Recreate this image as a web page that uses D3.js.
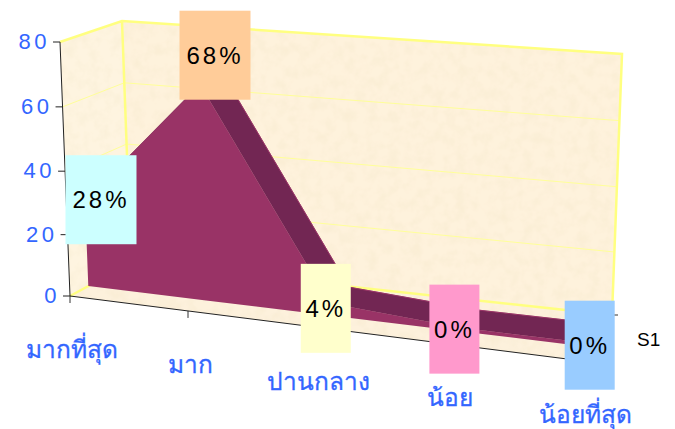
<!DOCTYPE html>
<html>
<head>
<meta charset="utf-8">
<style>
  html, body { margin: 0; padding: 0; background: #fff; }
  svg { display: block; }
</style>
<script src="https://cdn.jsdelivr.net/npm/d3@7"></script>
</head>
<body>
<script>
var categories = ["มากที่สุด", "มาก", "ปานกลาง", "น้อย", "น้อยที่สุด"];
var values = [28, 68, 4, 0, 0];
var seriesName = "S1";
var valueTicks = [0, 20, 40, 60, 80];
var gridValues = [20, 40, 60];
var labelColors = ["#ccffff", "#ffcc99", "#ffffcc", "#ff99cc", "#99ccff"];
// hand placed like the excel data labels, px away from the data point
var labelNudge = [[16, -1], [15, -29], [-4, 5], [-5, -2], [-2, -2]];

var width = 675, height = 429;

var svg = d3.select("body").append("svg")
    .attr("width", width)
    .attr("height", height);

// corners of the 3d box as they land on the picture
var box = {
  fbl: [70, 296], fbr: [583, 361], bbl: [131, 263], bbr: [612, 315],
  ftl: [60, 42], ftr: [595, 86], btl: [122, 21], btr: [622, 54]
};

var x = d3.scalePoint().domain(categories).range([0, 1]);
var warp = d3.scalePow().exponent(1.06).domain([0, 1]).range([0, 1]);
var y = d3.scalePow().exponent(1.025).domain([0, 80]).range([0, 1]);

function mix(a, b, t) {
  return [a[0] + (b[0] - a[0]) * t, a[1] + (b[1] - a[1]) * t];
}

// u along categories, v up the value axis, w into the back wall
function project(u, v, w) {
  var bottom = mix(mix(box.fbl, box.fbr, u), mix(box.bbl, box.bbr, u), w);
  var top = mix(mix(box.ftl, box.ftr, u), mix(box.btl, box.btr, u), w);
  return mix(bottom, top, v);
}

function at(i, value, w) {
  return project(warp(x(categories[i])), y(value), w);
}

// a zero still has a thin rim of the area showing above the floor
var rim = 1.2;
function lifted(v) { return Math.max(v, rim); }

var line = d3.line();
function poly(points) { return line(points) + "Z"; }

var defs = svg.append("defs");
var mottle = defs.append("filter").attr("id", "mottle")
    .attr("x", 0).attr("y", 0).attr("width", 1).attr("height", 1);
mottle.append("feTurbulence")
    .attr("type", "fractalNoise")
    .attr("baseFrequency", 0.09)
    .attr("numOctaves", 3)
    .attr("seed", 4)
    .attr("result", "noise");
mottle.append("feColorMatrix")
    .attr("in", "noise")
    .attr("type", "matrix")
    .attr("values", "0 0 0 0 0.9  0 0 0 0 0.8  0 0 0 0 0.58  0.8 0 0 0 -0.33")
    .attr("result", "tint");
mottle.append("feComposite")
    .attr("in", "tint")
    .attr("in2", "SourceGraphic")
    .attr("operator", "in")
    .attr("result", "spots");
var merge = mottle.append("feMerge");
merge.append("feMergeNode").attr("in", "SourceGraphic");
merge.append("feMergeNode").attr("in", "spots");

// walls and floor
var walls = svg.append("g").attr("filter", "url(#mottle)");
walls.append("path").attr("fill", "#fef2dc")
    .attr("d", poly([box.bbl, box.bbr, box.btr, box.btl]));
walls.append("path").attr("fill", "#fef4e0")
    .attr("d", poly([box.fbl, box.bbl, box.btl, box.ftl]));
walls.append("path").attr("fill", "#fdf1dc")
    .attr("d", poly([box.fbl, box.fbr, box.bbr, box.bbl]));

var grid = svg.append("g")
    .attr("fill", "none")
    .attr("stroke", "#ffff99")
    .attr("stroke-width", 1);
gridValues.forEach(function(v) {
  grid.append("path").attr("d", line([
    project(0, y(v), 0), project(0, y(v), 1), project(1, y(v), 1)
  ]));
});

svg.append("path")
    .attr("fill", "none")
    .attr("stroke", "#ffff80")
    .attr("stroke-width", 2.5)
    .attr("d", line([box.ftl, box.btl, box.btr, box.bbr, box.bbl, box.fbl]) + "M" + box.btl + "L" + box.bbl);

// the area, ribbon first then the front face over it
var frontDepth = 0.3, backDepth = 0.72;

var ribbon = svg.append("g");
d3.pairs(d3.range(values.length)).forEach(function(p) {
  var a = p[0], b = p[1];
  var va = lifted(values[a]), vb = lifted(values[b]);
  ribbon.append("path")
      .attr("fill", "#722653")
      .attr("stroke", "#722653")
      .attr("stroke-width", 0.5)
      .attr("d", poly([
        at(a, va, frontDepth), at(b, vb, frontDepth),
        at(b, vb, backDepth), at(a, va, backDepth)
      ]));
  ribbon.append("path")
      .attr("fill", "none")
      .attr("stroke", "#993366")
      .attr("stroke-width", 1)
      .attr("d", line([at(a, va, backDepth), at(b, vb, backDepth)]));
});

var front = values.map(function(v, i) { return at(i, lifted(v), frontDepth); });
var base = values.map(function(v, i) { return at(i, 0, frontDepth); }).reverse();
svg.append("path")
    .attr("fill", "#993366")
    .attr("d", poly(front.concat(base)));

// value axis, ticks slid along the leaning edge
var yAxisScale = d3.scaleLinear().domain([0, 80])
    .range([box.fbl[1], box.ftl[1]]);

var yAxis = svg.append("g")
    .call(d3.axisLeft(yAxisScale).tickValues(valueTicks).tickSize(7).tickPadding(3));
yAxis.select(".domain").remove();
yAxis.selectAll(".tick")
    .attr("transform", function(d) { return "translate(" + project(0, y(d), 0) + ")"; });
yAxis.selectAll(".tick line").attr("stroke", "#222");
yAxis.selectAll(".tick text")
    .attr("fill", "#3366ff")
    .attr("font-family", "Liberation Sans, sans-serif")
    .attr("font-size", 22)
    .attr("letter-spacing", 3.5);

svg.append("path").attr("fill", "none").attr("stroke", "#222").attr("stroke-width", 1)
    .attr("d", line([box.ftl, box.fbl]));

// category axis along the front of the floor
var xAxisScale = d3.scalePoint().domain(categories).range([0, 1]);
var xAxis = svg.append("g")
    .call(d3.axisBottom(xAxisScale).tickSize(7).tickPadding(38));
xAxis.select(".domain").remove();
xAxis.selectAll(".tick")
    .attr("transform", function(d, i) { return "translate(" + at(i, 0, 0) + ")"; });
xAxis.selectAll(".tick line").attr("stroke", "#333");
xAxis.selectAll(".tick text")
    .attr("fill", "#3366ff")
    .attr("stroke", "#3366ff")
    .attr("stroke-width", 0.3)
    .attr("font-family", "Noto Sans, sans-serif")
    .attr("font-size", 24.5)
    .attr("dx", 2);

svg.append("path").attr("fill", "none").attr("stroke", "#222").attr("stroke-width", 1)
    .attr("d", line([box.fbl, box.fbr]));

// depth axis: just the tick and the series name
var depthTick = project(1, 0, 1);
svg.append("line")
    .attr("x1", depthTick[0]).attr("x2", depthTick[0] + 6)
    .attr("y1", depthTick[1]).attr("y2", depthTick[1])
    .attr("stroke", "#333");
svg.append("text")
    .attr("x", depthTick[0] + 25)
    .attr("y", depthTick[1] + 31)
    .attr("font-family", "Liberation Sans, sans-serif")
    .attr("font-size", 19)
    .text(seriesName);

// data labels
var labels = svg.append("g").selectAll("g")
    .data(values)
    .join("g")
    .attr("transform", function(d, i) {
      var p = at(i, d, frontDepth);
      return "translate(" + (p[0] + labelNudge[i][0]) + "," + (p[1] + labelNudge[i][1]) + ")";
    });
labels.append("rect")
    .attr("x", function(d) { return d >= 10 ? -35.5 : -25; })
    .attr("width", function(d) { return d >= 10 ? 71 : 50; })
    .attr("y", -44.5)
    .attr("height", 89)
    .attr("fill", function(d, i) { return labelColors[i]; });
labels.append("text")
    .attr("text-anchor", "middle")
    .attr("dy", "0.35em")
    .attr("font-family", "Liberation Sans, sans-serif")
    .attr("font-size", 24)
    .attr("letter-spacing", 3)
    .text(function(d) { return d + "%"; });
</script>
</body>
</html>
